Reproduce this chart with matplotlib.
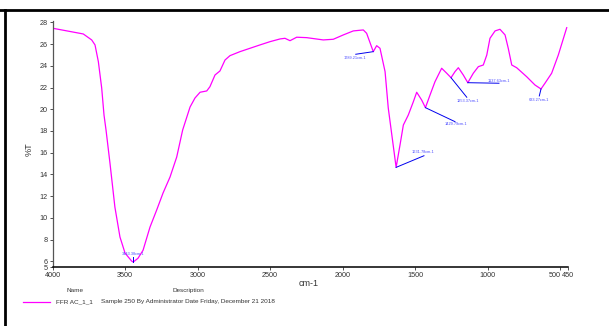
import matplotlib
matplotlib.use("Agg")
import matplotlib.pyplot as plt
from matplotlib.lines import Line2D

plt.rcParams['font.family'] = ['Liberation Sans', 'DejaVu Sans']

# FTIR spectrum: wavenumber (cm-1) and transmittance (%T)
wavenumber = [4000, 3788, 3730, 3707, 3684, 3661, 3645, 3631, 3604, 3570,
              3535, 3500, 3454, 3443.38, 3411, 3376, 3328, 3282, 3238, 3190,
              3144, 3103, 3052, 3018, 2983, 2937, 2915, 2880, 2846, 2811,
              2777, 2708, 2639, 2570, 2501, 2432, 2398, 2363, 2317, 2248,
              2134, 2065, 1996, 1927, 1858, 1835, 1789.21, 1766, 1743, 1708,
              1686, 1631.78, 1605, 1582, 1548, 1513, 1490, 1456, 1429.79, 1398,
              1364, 1318, 1283, 1253.37, 1226, 1203, 1169, 1137.63, 1100, 1065,
              1031, 1007, 985, 950, 916, 881, 859, 835, 801, 732,
              675, 633.27, 606, 560, 514, 456]
transmittance = [27.47, 26.94, 26.39, 25.93, 24.39, 21.96, 19.47, 18.08, 15.05, 10.99,
                 8.23, 6.75, 6.01, 5.93, 6.27, 7.01, 9.15, 10.72, 12.29, 13.76,
                 15.60, 18.09, 20.21, 21.04, 21.57, 21.69, 22.08, 23.16, 23.53, 24.54,
                 24.94, 25.31, 25.62, 25.93, 26.23, 26.48, 26.54, 26.32, 26.64, 26.60,
                 26.39, 26.45, 26.85, 27.22, 27.31, 27.00, 25.31, 25.86, 25.62, 23.47,
                 20.12, 14.65, 16.71, 18.55, 19.47, 20.70, 21.57, 20.86, 20.15, 21.32,
                 22.54, 23.78, 23.32, 22.91, 23.47, 23.83, 23.16, 22.45, 23.32, 23.93,
                 24.08, 25.00, 26.54, 27.22, 27.37, 26.85, 25.62, 24.08, 23.83, 23.00,
                 22.24, 21.87, 22.40, 23.32, 25.00, 27.52]

# Labelled peaks: position, label anchor (wn, %T), leader end (wn, %T)
peak_wn = [3443.38, 1789.21, 1631.78, 1429.79, 1253.37, 1137.63, 633.27]
peak_label_pos = [(3443, 6.66), (1912, 24.76), (1443, 16.04), (1219, 18.65),
                  (1136, 20.79), (923, 22.64), (647, 20.86)]
peak_line_end = [(3443.38, 6.35), (1910, 25.07), (1440, 15.72), (1226, 18.86),
                 (1145, 21.11), (923, 22.40), (645, 21.23)]

x_ticks = [4000, 3500, 3000, 2500, 2000, 1500, 1000, 500, 450]
y_min, y_max = 5.47, 28.18
y_ticks = [y_min, 6, 8, 10, 12, 14, 16, 18, 20, 22, 24, 26, 28]

series_name = "FFR AC_1_1"
series_desc = "Sample 250 By Administrator Date Friday, December 21 2018"

W, H = 609, 326
fig = plt.figure(figsize=(W / 100, H / 100), dpi=100)
ax = fig.add_axes([52.5 / W, 1 - 267 / H, (567.6 - 52.5) / W, (267 - 20.5) / H])

ax.plot(wavenumber, transmittance, color='#ff00ff', lw=0.9, solid_joinstyle='round')

lookup = dict(zip(wavenumber, transmittance))
for wn, (lx, ly), (ex, ey) in zip(peak_wn, peak_label_pos, peak_line_end):
    ax.plot([wn, ex], [lookup[wn], ey], color='#0000ee', lw=0.7)
    ax.text(lx, ly, f"{wn:.2f}cm-1", fontsize=2.8, color='#4a4aff',
            ha='center', va='center')

ax.set_xlim(4000, 450)
ax.set_ylim(y_min, y_max)
ax.set_xticks(x_ticks)
ax.set_xticklabels([str(v) for v in x_ticks])
ax.set_yticks(y_ticks)
ax.set_yticklabels([str(int(v)) for v in y_ticks])
ax.tick_params(axis='both', direction='out', length=2.5, width=0.6, pad=1,
               labelsize=5.2, labelcolor='#333333', color='#333333')
# the two closely spaced end ticks sit side by side
xlabels = ax.get_xticklabels()
xlabels[-2].set_horizontalalignment('right')
xlabels[-1].set_horizontalalignment('center')
for side in ('top', 'right'):
    ax.spines[side].set_visible(False)
ax.spines['left'].set_color('#555555')
ax.spines['left'].set_linewidth(0.9)
ax.spines['bottom'].set_color('black')
ax.spines['bottom'].set_linewidth(1.1)

fig.text(309 / W, 1 - 283.5 / H, "cm-1", fontsize=6.5, color='#333333',
         ha='center', va='center')
fig.text(29 / W, 1 - 149 / H, "%T", fontsize=6.5, color='#333333',
         ha='center', va='center', rotation=90)

# Legend block under the plot
fig.text(75 / W, 1 - 290.7 / H, "Name", fontsize=4.6, color='#333333',
         ha='center', va='center')
fig.text(188.7 / W, 1 - 290.7 / H, "Description", fontsize=4.6, color='#333333',
         ha='center', va='center')
fig.add_artist(Line2D([23 / W, 50 / W], [1 - 301.7 / H] * 2, color='#ff00ff', lw=0.9))
fig.text(56 / W, 1 - 301.7 / H, series_name, fontsize=4.6, color='#333333',
         ha='left', va='center')
fig.text(100.7 / W, 1 - 301.7 / H, series_desc, fontsize=4.6, color='#333333',
         ha='left', va='center')

# Frame lines along the top and left edges
fig.add_artist(Line2D([0, 1], [1 - 10 / H] * 2, color='black', lw=2.0))
fig.add_artist(Line2D([5 / W] * 2, [0, 1 - 10 / H], color='black', lw=2.0))

fig.savefig("out.png", dpi=100, facecolor='white')
